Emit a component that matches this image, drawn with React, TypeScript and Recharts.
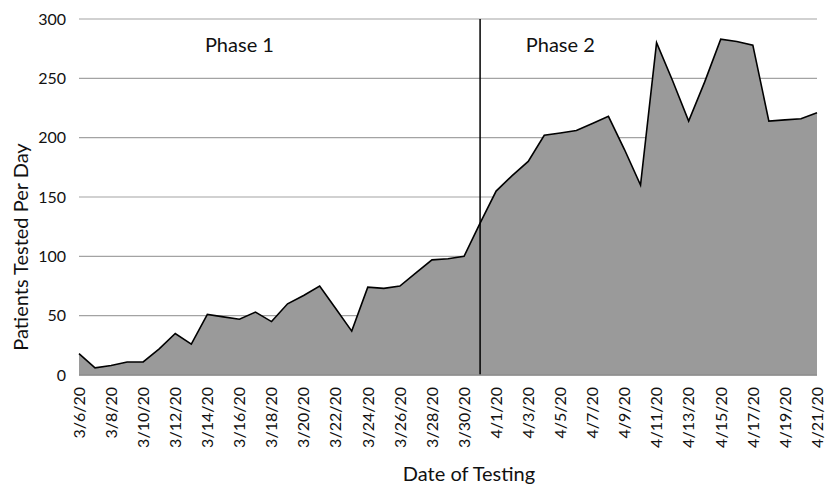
import { AreaChart, Area, XAxis, YAxis, CartesianGrid, ReferenceLine, ReferenceDot } from "recharts";

const dates = [
  "3/6/20", "3/7/20", "3/8/20", "3/9/20", "3/10/20", "3/11/20", "3/12/20", "3/13/20",
  "3/14/20", "3/15/20", "3/16/20", "3/17/20", "3/18/20", "3/19/20", "3/20/20", "3/21/20",
  "3/22/20", "3/23/20", "3/24/20", "3/25/20", "3/26/20", "3/27/20", "3/28/20", "3/29/20",
  "3/30/20", "3/31/20", "4/1/20", "4/2/20", "4/3/20", "4/4/20", "4/5/20", "4/6/20",
  "4/7/20", "4/8/20", "4/9/20", "4/10/20", "4/11/20", "4/12/20", "4/13/20", "4/14/20",
  "4/15/20", "4/16/20", "4/17/20", "4/18/20", "4/19/20", "4/20/20", "4/21/20",
];

const patients = [
  18, 6, 8, 11, 11, 22, 35, 26, 51, 49, 47, 53, 45, 60, 67, 75,
  56, 37, 74, 73, 75, 86, 97, 98, 100, 128, 155, 168, 180, 202, 204, 206,
  212, 218, 190, 160, 280, 248, 214, 247, 283, 281, 278, 214, 215, 216, 221,
];

const yTicks = [0, 50, 100, 150, 200, 250, 300];

const phases = [
  { label: "Phase 1", date: "3/16/20", y: 278 },
  { label: "Phase 2", date: "4/5/20", y: 278 },
];

const phaseSplit = "3/31/20";

const data = dates.map((d, i) => ({ date: d, patients: patients[i] }));

const font = "Lato, 'Open Sans', sans-serif";

function DateTick(props: any) {
  const { x, y, payload } = props;
  return (
    <g transform={`translate(${x},${y})`}>
      <text transform="rotate(-90)" textAnchor="end" dy="0.36em" fontSize={16} fontFamily={font} fill="#111">
        {payload.value}
      </text>
    </g>
  );
}

export default function App() {
  return (
    <div style={{ position: "absolute", left: 0, top: 0, width: 827, height: 486, overflow: "hidden", background: "#fff" }}>
      <AreaChart width={827} height={486} data={data} margin={{ top: 19, right: 10, bottom: 0, left: 0 }}>
        <CartesianGrid vertical={false} stroke="#a3a3a3" strokeWidth={1.2} />
        <XAxis
          dataKey="date"
          interval={1}
          height={111}
          tickSize={0}
          tickMargin={12}
          tick={<DateTick />}
          axisLine={{ stroke: "#8c8c8c", strokeWidth: 1.5 }}
          tickLine={false}
        />
        <YAxis
          domain={[0, 300]}
          ticks={yTicks}
          width={79}
          tickSize={0}
          tickMargin={13}
          axisLine={false}
          tickLine={false}
          tick={{ fontSize: 16, fontFamily: font, fill: "#111" }}
        />
        <Area
          type="linear"
          dataKey="patients"
          stroke="#000"
          strokeWidth={1.6}
          fill="#9a9a9a"
          fillOpacity={1}
          isAnimationActive={false}
        />
        <ReferenceLine x={phaseSplit} stroke="#000" strokeWidth={1.5} />
        {phases.map((p) => (
          <ReferenceDot
            key={p.label}
            x={p.date}
            y={p.y}
            r={0}
            fill="none"
            stroke="none"
            label={{ value: p.label, position: "center", fontSize: 20, fontFamily: font, fill: "#111" }}
          />
        ))}
        <text x={21} y={247} transform="rotate(-90, 21, 247)" textAnchor="middle" dy="0.35em" fontSize={20} fontFamily={font} fill="#111">
          Patients Tested Per Day
        </text>
        <text x={469} y={481} textAnchor="middle" fontSize={20} fontFamily={font} fill="#111">
          Date of Testing
        </text>
      </AreaChart>
    </div>
  );
}
